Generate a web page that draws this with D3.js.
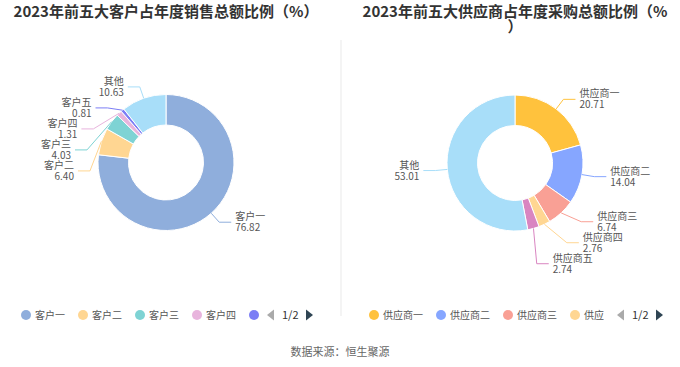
<!DOCTYPE html>
<html>
<head>
<meta charset="utf-8">
<script src="https://cdn.jsdelivr.net/npm/d3@7"></script>
<style>
  body { margin: 0; background: #fff; }
  svg { font-family: "Noto Sans CJK SC", "Noto Sans", sans-serif; }
</style>
</head>
<body>
<svg id="canvas" width="680" height="367"></svg>
<script>
// chart data
const customerNames = ["客户一", "客户二", "客户三", "客户四", "客户五", "其他"];
const customerValues = [76.82, 6.40, 4.03, 1.31, 0.81, 10.63];
const supplierNames = ["供应商一", "供应商二", "供应商三", "供应商四", "供应商五", "其他"];
const supplierValues = [20.71, 14.04, 6.74, 2.76, 2.74, 53.01];
const customerTitle = ["2023年前五大客户占年度销售总额比例（%）"];
const supplierTitle = ["2023年前五大供应商占年度采购总额比例（%", "）"];
const pageLabel = "1/2";
const sourceText = "数据来源：恒生聚源";

// colours
const customerColors = ["#8FAEDC", "#FFD692", "#7ED3D4", "#E8B4DD", "#7C7EF5", "#A8DEF9"];
const supplierColors = ["#FFC23D", "#86A6FF", "#F9A095", "#FFD692", "#D985C1", "#A8DEF9"];

const svg = d3.select("#canvas");

// thin divider between the two charts
svg.append("line")
   .attr("x1", 341).attr("x2", 341)
   .attr("y1", 40).attr("y2", 316)
   .style("stroke", "#f0f0f0")
   .style("stroke-width", 1.5);

const outerR = 68, innerR = 37.5, len1 = 12, len2 = 12, gap = 4, labelH = 21;

function drawPanel(opts) {
    const g = svg.append("g");
    const data = opts.names.map((n, i) => ({ name: n, value: opts.values[i] }));
    const color = d3.scaleOrdinal().domain(opts.names).range(opts.colors);

    // title
    g.append("text")
     .attr("x", opts.cx)
     .attr("y", 12)
     .attr("text-anchor", "middle")
     .style("font-size", "15px")
     .style("font-weight", "bold")
     .style("fill", "#333")
     .selectAll("tspan")
     .data(opts.title)
     .enter()
     .append("tspan")
     .attr("x", opts.cx)
     .attr("dy", (d, i) => i === 0 ? "0.35em" : "15")
     .text(d => d);

    const pie = d3.pie().sort(null).value(d => d.value);
    const arcs = pie(data);
    const arc = d3.arc().innerRadius(innerR).outerRadius(outerR);

    const chart = g.append("g").attr("transform", `translate(${opts.cx},${opts.cy})`);
    chart.selectAll("path.slice")
         .data(arcs)
         .enter()
         .append("path")
         .attr("class", "slice")
         .attr("d", arc)
         .style("fill", d => color(d.data.name))
         .style("stroke", "#fff")
         .style("stroke-width", 1);

    // label layout: radial point, then move down to avoid overlaps
    const labels = arcs.map(a => {
        const mid = (a.startAngle + a.endAngle) / 2;
        const sx = Math.sin(mid), sy = -Math.cos(mid);
        return {
            d: a.data,
            dir: sx < 0 ? -1 : 1,
            p0: [sx * outerR, sy * outerR],
            kx: sx * (outerR + len1),
            y: sy * (outerR + len1)
        };
    });

    [-1, 1].forEach(dir => {
        const side = labels.filter(l => l.dir === dir).sort((a, b) => a.y - b.y);
        let shifted = false;
        for (let i = 1; i < side.length; i++) {
            if (side[i].y - side[i - 1].y < labelH) {
                side[i].y = side[i - 1].y + labelH;
                shifted = true;
            }
        }
        if (!shifted) return;
        const rA = outerR + len1;
        [side.filter(l => l.y <= 0), side.filter(l => l.y > 0)].forEach(semi => {
            let maxY = -1, rB = rA;
            semi.forEach(l => {
                const dy = Math.abs(l.y);
                if (dy >= maxY) {
                    rB = Math.abs(l.kx) < rA ? Math.sqrt(dy * dy / (1 - l.kx * l.kx / rA / rA)) : rA;
                    maxY = dy;
                }
            });
            semi.forEach(l => {
                const dy = Math.abs(l.y);
                l.kx = l.dir * Math.sqrt(Math.max(0, 1 - dy * dy / rB / rB)) * rA;
            });
        });
    });

    chart.selectAll("polyline.leader")
         .data(labels)
         .enter()
         .append("polyline")
         .attr("class", "leader")
         .attr("points", l => [l.p0, [l.kx, l.y], [l.kx + l.dir * len2, l.y]].map(p => p.join(",")).join(" "))
         .style("fill", "none")
         .style("stroke", l => color(l.d.name))
         .style("stroke-width", 1);

    const lbl = chart.selectAll("text.label")
         .data(labels)
         .enter()
         .append("text")
         .attr("class", "label")
         .attr("text-anchor", l => l.dir < 0 ? "end" : "start")
         .style("font-size", "10px")
         .style("fill", "#555");
    lbl.append("tspan")
       .attr("x", l => l.kx + l.dir * (len2 + gap))
       .attr("y", l => l.y - 5.5)
       .attr("dy", "0.35em")
       .text(l => l.d.name);
    lbl.append("tspan")
       .attr("x", l => l.kx + l.dir * (len2 + gap))
       .attr("y", l => l.y + 5.5)
       .attr("dy", "0.35em")
       .text(l => l.d.value.toFixed(2));

    // scrolling legend, first page only
    const legend = g.append("g").attr("transform", `translate(${opts.legendX},315)`);
    const clipId = "clip" + opts.cx;
    legend.append("clipPath")
          .attr("id", clipId)
          .append("rect")
          .attr("x", 0).attr("y", -10)
          .attr("width", opts.legendClip).attr("height", 20);
    const items = legend.append("g").attr("clip-path", `url(#${clipId})`);
    let x = 0;
    data.forEach(d => {
        const it = items.append("g").attr("transform", `translate(${x},0)`);
        it.append("circle").attr("cx", 5).attr("cy", 0).attr("r", 5).style("fill", color(d.name));
        const t = it.append("text")
                    .attr("x", 14).attr("y", 0).attr("dy", "0.35em")
                    .style("font-size", "10px").style("fill", "#555")
                    .text(d.name);
        x += 14 + t.node().getComputedTextLength() + 13;
    });

    const ctrl = legend.append("g").attr("transform", `translate(${opts.legendClip + opts.ctrlGap},0)`);
    ctrl.append("path").attr("d", "M0,0L7,-5.5L7,5.5Z").style("fill", "#aaa");
    ctrl.append("text")
        .attr("x", 15).attr("y", 0).attr("dy", "0.35em")
        .style("font-size", "11px").style("fill", "#333")
        .text(pageLabel);
    ctrl.append("path").attr("d", "M39,-5.5L46,0L39,5.5Z").style("fill", "#2f4554");
}

drawPanel({ cx: 166, cy: 162.5, names: customerNames, values: customerValues, colors: customerColors,
            title: customerTitle, legendX: 21, legendClip: 240, ctrlGap: 6 });
drawPanel({ cx: 515, cy: 163, names: supplierNames, values: supplierValues, colors: supplierColors,
            title: supplierTitle, legendX: 369, legendClip: 235, ctrlGap: 13 });

svg.append("text")
   .attr("x", 340)
   .attr("y", 352)
   .attr("dy", "0.35em")
   .attr("text-anchor", "middle")
   .style("font-size", "11px")
   .style("fill", "#666")
   .text(sourceText);
</script>
</body>
</html>
